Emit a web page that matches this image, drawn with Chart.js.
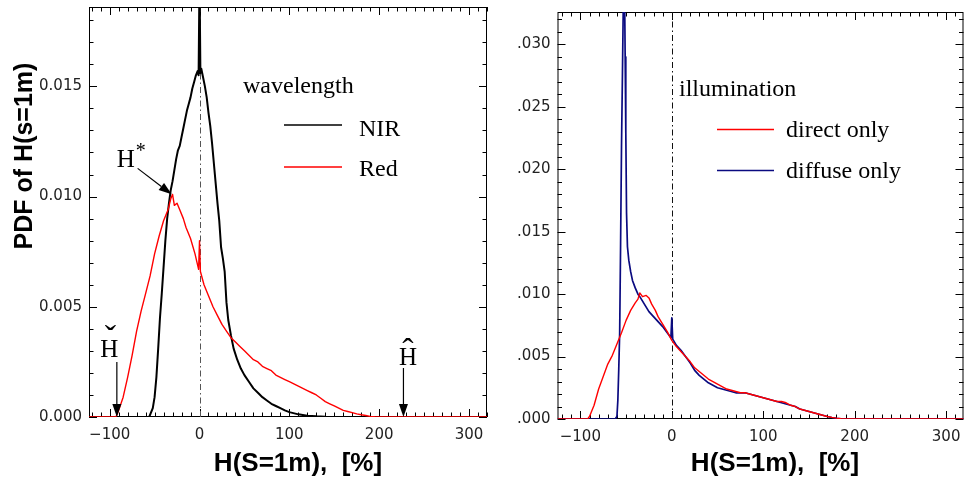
<!DOCTYPE html>
<html>
<head>
<meta charset="utf-8">
<script src="https://cdn.jsdelivr.net/npm/chart.js@4.4.0/dist/chart.umd.min.js"></script>
<style>
  html, body { margin: 0; padding: 0; background: #fff; }
  body { width: 964px; height: 481px; position: relative; overflow: hidden; }
  #left { position: absolute; left: 0; top: 0; }
  #right { position: absolute; left: 490px; top: 0; }
</style>
</head>
<body>
<canvas id="left" width="490" height="481"></canvas>
<canvas id="right" width="480" height="481"></canvas>
<script>
// ---- wavelength panel: PDF of H(S=1m) [%] ----
const nirX = [-123, -56, -52, -50, -48, -46, -44, -42, -40, -38, -36, -34, -32, -30, -28, -26, -24, -22, -20, -18,
  -16, -14, -12, -10, -8, -6, -4, -2, -1, 0, 1, 2, 4, 6, 8, 10, 12, 14, 16, 18,
  20, 22, 24, 26, 28, 30, 32, 35, 38, 42, 46, 50, 55, 60, 65, 70, 75, 80, 85, 90,
  95, 100, 110, 120, 130, 140, 150, 320];
const nirY = [0, 0, 0.0004, 0.0009, 0.0018, 0.0031, 0.0045, 0.0056, 0.0068, 0.0080, 0.0090, 0.0097, 0.0103, 0.0107, 0.0112, 0.0117, 0.0121, 0.0123, 0.0127, 0.0131,
  0.0135, 0.0139, 0.0142, 0.0145, 0.0149, 0.0152, 0.0155, 0.0157, 0.0155, 0.0200, 0.0156, 0.0158, 0.0154, 0.0150, 0.0145, 0.0138, 0.0132, 0.0124, 0.0115, 0.0106,
  0.0097, 0.0089, 0.0077, 0.0072, 0.0066, 0.0052, 0.0044, 0.0037, 0.0031, 0.0026, 0.0022, 0.0019, 0.0016, 0.0013, 0.0011, 0.0009, 0.00075, 0.0006, 0.0005, 0.0004,
  0.0003, 0.00022, 0.00012, 0.00006, 0.00003, 0.00001, 0, 0];

const redX = [-123, -93, -90, -85, -80, -75, -70, -65, -60, -55, -50, -45, -40, -35, -32, -30, -28, -25, -22, -18,
  -15, -10, -5, -1, 0, 1, 5, 10, 15, 20, 25, 30, 35, 40, 45, 50, 55, 60, 65, 70,
  75, 80, 85, 90, 95, 100, 105, 110, 115, 120, 125, 130, 135, 140, 145, 150, 155, 160, 165, 170,
  175, 180, 185, 190, 195, 200, 320];
const redY = [0, 0, 0.0003, 0.0009, 0.0018, 0.0028, 0.0039, 0.0048, 0.0056, 0.0064, 0.0074, 0.0082, 0.0089, 0.0094, 0.0099, 0.0101, 0.0096, 0.0097, 0.0094, 0.0090,
  0.0086, 0.0081, 0.0074, 0.0067, 0.0080, 0.0066, 0.0060, 0.0055, 0.0050, 0.0046, 0.0042, 0.0039, 0.0036, 0.0034, 0.0032, 0.0030, 0.0028, 0.0026, 0.0025, 0.0023,
  0.0022, 0.0021, 0.0019, 0.0018, 0.0017, 0.0016, 0.0015, 0.0014, 0.0013, 0.0012, 0.0011, 0.0010, 0.00085, 0.0007, 0.0006, 0.0005, 0.0004, 0.0003, 0.00025, 0.0002,
  0.00014, 0.0001, 0.00007, 0.00003, 0.00001, 0, 0];

// ---- illumination panel ----
const directX = [-125, -92, -90, -85, -80, -75, -70, -65, -60, -55, -50, -45, -40, -37, -35, -32, -28, -25, -22, -18,
  -15, -10, -5, 0, 5, 10, 15, 20, 25, 30, 35, 40, 45, 50, 55, 60, 65, 70, 75, 80,
  85, 90, 95, 100, 105, 110, 115, 120, 125, 130, 135, 140, 145, 150, 155, 160, 165, 170, 175, 180,
  185, 190, 195, 320];
const directY = [0, 0, 0.0002, 0.0011, 0.0024, 0.0034, 0.0044, 0.0051, 0.0060, 0.0069, 0.0079, 0.0087, 0.0093, 0.0096, 0.0101, 0.0098, 0.0099, 0.0097, 0.0092, 0.0087,
  0.0082, 0.0076, 0.0070, 0.0063, 0.0058, 0.0054, 0.0050, 0.0046, 0.0041, 0.0038, 0.0035, 0.0032, 0.0030, 0.0028, 0.0026, 0.0024, 0.0023, 0.0022, 0.0021, 0.0021,
  0.0020, 0.0019, 0.0018, 0.0017, 0.0016, 0.0015, 0.0014, 0.0014, 0.0013, 0.0011, 0.0010, 0.0008, 0.0007, 0.0006, 0.0005, 0.0004, 0.0003, 0.0002, 0.00013, 0.00007,
  0.00003, 0.00001, 0, 0];

const diffuseX = [-125, -62, -60, -59, -58, -57, -56, -55, -54, -53, -52.5, -52, -51.5, -51, -50.3, -49.5, -48.5, -47, -45, -43,
  -40, -37, -35, -30, -25, -20, -15, -10, -5, -1, 0, 1, 5, 10, 15, 20, 25, 30, 35, 40,
  45, 50, 55, 60, 65, 70, 75, 80, 85, 90, 95, 100, 105, 110, 115, 120, 125, 130, 135, 140,
  145, 150, 155, 160, 165, 170, 175, 180, 185, 190, 320];
const diffuseY = [0, 0, 0.0002, 0.0015, 0.0040, 0.0069, 0.0140, 0.0218, 0.0275, 0.0335, 0.0352, 0.0350, 0.0330, 0.0290, 0.0230, 0.0165, 0.0138, 0.0127, 0.0118, 0.0111,
  0.0105, 0.0100, 0.0098, 0.0092, 0.0086, 0.0082, 0.0078, 0.0074, 0.0069, 0.0065, 0.0081, 0.0064, 0.0059, 0.0055, 0.0050, 0.0045, 0.0039, 0.0035, 0.0032, 0.0029,
  0.0027, 0.0025, 0.0024, 0.0023, 0.0022, 0.0021, 0.0021, 0.0021, 0.0020, 0.0019, 0.0018, 0.0017, 0.0016, 0.0015, 0.0014, 0.0013, 0.0012, 0.0011, 0.0010, 0.0008,
  0.0007, 0.0006, 0.0005, 0.0004, 0.0003, 0.0002, 0.00012, 0.00006, 0.00002, 0, 0];

// tick labels
const xTickValues = [-100, 0, 100, 200, 300];
const leftYTicks = [0, 0.005, 0.010, 0.015];
const rightYTicks = [0, 0.005, 0.010, 0.015, 0.020, 0.025, 0.030];

// marked H values: lower bound, upper bound, NIR/Red crossing
const hCheck = -92;
const hHat = 227;
const hStar = [-31, 0.0101];

const tickFont = { family: 'DejaVu Sans', size: 15 };
const serif = '"Liberation Serif", "DejaVu Serif", serif';
const sans = '"Liberation Sans", Arial, sans-serif';

function pts(xs, ys) {
  return xs.map((x, i) => ({ x: x, y: ys[i] }));
}

function fmtX(v) {
  return v < 0 ? '\u2212' + Math.abs(v) : String(v);
}

function arrow(ctx, x0, y0, x1, y1) {
	const ang = Math.atan2(y1 - y0, x1 - x0);
	const head = 13, half = 4.5;
	const bx = x1 - head * Math.cos(ang), by = y1 - head * Math.sin(ang);
	ctx.beginPath();
	ctx.moveTo(x0, y0);
	ctx.lineTo(bx, by);
	ctx.stroke();
	ctx.beginPath();
	ctx.moveTo(x1, y1);
	ctx.lineTo(bx + half * Math.sin(ang), by - half * Math.cos(ang));
	ctx.lineTo(bx - half * Math.sin(ang), by + half * Math.cos(ang));
	ctx.closePath();
	ctx.fill();
}

// IDL-style frame: box with inward ticks on all four sides + dash-dot line at H=0
function framePlugin(zeroColor) {
	return {
		id: 'frame',
		beforeDatasetsDraw(chart) {
			const { ctx, chartArea: a, scales: { x, y } } = chart;
			ctx.save();
			ctx.strokeStyle = '#000';
			ctx.lineWidth = 1;
			ctx.strokeRect(a.left + 0.5, a.top + 0.5, a.right - a.left - 1, a.bottom - a.top - 1);

			ctx.beginPath();
			for (let k = Math.ceil(x.min / 10); k * 10 <= x.max; k++) {
				const px = Math.round(x.getPixelForValue(k * 10)) + 0.5;
				const len = k % 10 === 0 ? 8 : 4.5;
				ctx.moveTo(px, a.bottom); ctx.lineTo(px, a.bottom - len);
				ctx.moveTo(px, a.top); ctx.lineTo(px, a.top + len);
			}
			for (let k = 0; k * 0.001 <= y.max + 1e-9; k++) {
				const py = Math.round(y.getPixelForValue(k * 0.001)) + 0.5;
				const len = k % 5 === 0 ? 8 : 4.5;
				ctx.moveTo(a.left, py); ctx.lineTo(a.left + len, py);
				ctx.moveTo(a.right, py); ctx.lineTo(a.right - len, py);
			}
			ctx.stroke();

			const zx = Math.round(x.getPixelForValue(0)) + 0.5;
			ctx.strokeStyle = zeroColor;
			ctx.setLineDash([6, 3, 1.5, 3]);
			ctx.beginPath();
			ctx.moveTo(zx, a.bottom);
			ctx.lineTo(zx, a.top);
			ctx.stroke();
			ctx.restore();
		}
	};
}

// legend, annotations and axis titles drawn on top
function textPlugin(draw) {
	return {
		id: 'texts',
		afterDraw(chart) {
			const ctx = chart.ctx;
			ctx.save();
			ctx.fillStyle = '#000';
			ctx.strokeStyle = '#000';
			draw(chart, ctx);
			ctx.restore();
		}
	};
}

function xTitle(ctx, cx) {
	ctx.font = 'bold 26px ' + sans;
	ctx.textAlign = 'center';
	ctx.textBaseline = 'middle';
	ctx.fillText('H(S=1m),  [%]', cx, 464);
}

function legendRow(ctx, color, x0, x1, ly, label, tx, ty) {
	ctx.strokeStyle = color;
	ctx.lineWidth = 1.5;
	ctx.beginPath();
	ctx.moveTo(x0, ly);
	ctx.lineTo(x1, ly);
	ctx.stroke();
	ctx.fillText(label, tx, ty);
}

function baseOptions(xMin, xMax, yMax, yWidth, xHeight, yTicks, yLabel, pad) {
	return {
		responsive: false,
		animation: false,
		events: [],
		layout: { padding: pad },
		plugins: { legend: { display: false }, tooltip: { enabled: false } },
		elements: { point: { radius: 0 }, line: { tension: 0, borderJoinStyle: 'round' } },
		scales: {
			x: {
				type: 'linear', min: xMin, max: xMax,
				afterFit: s => { s.height = xHeight; s.paddingLeft = 0; s.paddingRight = 0; },
				afterBuildTicks: s => { s.ticks = xTickValues.map(v => ({ value: v })); },
				grid: { display: false, drawTicks: false },
				border: { display: false },
				ticks: { padding: 9, font: tickFont, color: '#222', maxRotation: 0, autoSkip: false, callback: v => fmtX(v) }
			},
			y: {
				type: 'linear', min: 0, max: yMax,
				afterFit: s => { s.width = yWidth; s.paddingTop = 0; s.paddingBottom = 0; },
				afterBuildTicks: s => { s.ticks = yTicks.map(v => ({ value: v })); },
				grid: { display: false, drawTicks: false },
				border: { display: false },
				ticks: { padding: 7, font: tickFont, color: '#222', callback: v => yLabel(v) }
			}
		}
	};
}

// left: wavelength
new Chart(document.getElementById('left'), {
	type: 'line',
	data: {
		datasets: [
			{ label: 'Red', data: pts(redX, redY), borderColor: '#ff0000', borderWidth: 1.4, order: 0 },
			{ label: 'NIR', data: pts(nirX, nirY), borderColor: '#000000', borderWidth: 2, order: 1 }
		]
	},
	options: baseOptions(-123, 320, 0.0186, 89, 64, leftYTicks, v => v.toFixed(3),
		{ top: 7, right: 3, left: 0, bottom: 0 }),
	plugins: [framePlugin('#555'), textPlugin((chart, ctx) => {
		const { x, y } = chart.scales;

		ctx.font = '24px ' + serif;
		ctx.textAlign = 'left';
		ctx.textBaseline = 'alphabetic';
		ctx.fillText('wavelength', 243, 93);
		legendRow(ctx, '#000', 284, 342, 125, 'NIR', 359, 136);
		legendRow(ctx, '#ff0000', 284, 342, 167, 'Red', 359, 176);

		ctx.strokeStyle = '#000';
		ctx.lineWidth = 1.2;
		ctx.font = '25px ' + serif;
		ctx.textAlign = 'center';

		// H*
		const sx = x.getPixelForValue(hStar[0]), sy = y.getPixelForValue(hStar[1]);
		ctx.fillText('H', sx - 46, sy - 27);
		ctx.font = '20px ' + serif;
		ctx.fillText('*', sx - 31, sy - 37);
		arrow(ctx, sx - 34, sy - 26, sx, sy);

		// lower bound
		const cx = x.getPixelForValue(hCheck), by = y.getPixelForValue(0);
		ctx.font = '25px ' + serif;
		ctx.fillText('H', cx - 7.5, by - 60);
		ctx.font = '34px ' + serif;
		ctx.fillText('\u02C7', cx - 6.5, by - 68);
		arrow(ctx, cx, by - 55, cx, by);

		// upper bound
		const hx = x.getPixelForValue(hHat);
		ctx.font = '25px ' + serif;
		ctx.fillText('H', hx + 4.5, by - 52);
		ctx.font = '34px ' + serif;
		ctx.fillText('\u02C6', hx + 4.5, by - 55);
		arrow(ctx, hx, by - 49, hx, by);

		xTitle(ctx, 298);
		ctx.save();
		ctx.translate(25, 156);
		ctx.rotate(-Math.PI / 2);
		ctx.font = 'bold 25px ' + sans;
		ctx.textAlign = 'center';
		ctx.textBaseline = 'middle';
		ctx.fillText('PDF of H(s=1m)', 0, 0);
		ctx.restore();
	})]
});

// right: illumination
new Chart(document.getElementById('right'), {
	type: 'line',
	data: {
		datasets: [
			{ label: 'direct only', data: pts(directX, directY), borderColor: '#ff0000', borderWidth: 1.4, order: 0 },
			{ label: 'diffuse only', data: pts(diffuseX, diffuseY), borderColor: '#0a0a80', borderWidth: 1.7, order: 1 }
		]
	},
	options: baseOptions(-125, 319, 0.0326, 67.5, 62, rightYTicks, v => v.toFixed(3).replace(/^0/, ''),
		{ top: 12, right: 6.5, left: 0, bottom: 0 }),
	plugins: [framePlugin('#111'), textPlugin((chart, ctx) => {
		ctx.font = '24px ' + serif;
		ctx.textAlign = 'left';
		ctx.textBaseline = 'alphabetic';
		ctx.fillText('illumination', 189, 96);
		legendRow(ctx, '#ff0000', 227, 284, 129.5, 'direct only', 296, 137);
		legendRow(ctx, '#0a0a80', 227, 284, 170.5, 'diffuse only', 296, 178);
		ctx.fillStyle = '#000';
		xTitle(ctx, 285);
	})]
});
</script>
</body>
</html>
